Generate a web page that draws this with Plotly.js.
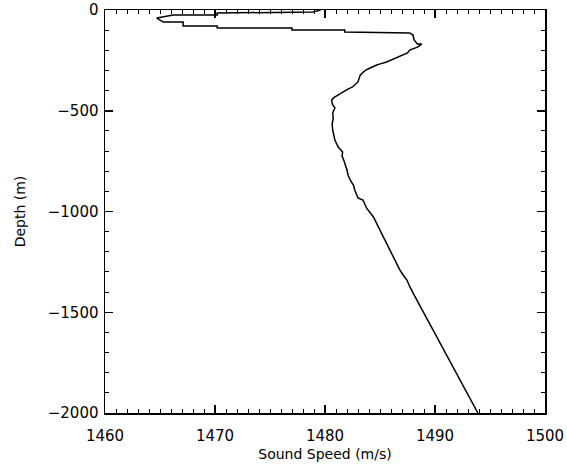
<!DOCTYPE html>
<html>
<head>
<meta charset="utf-8">
<script src="https://cdn.plot.ly/plotly-3.0.1.min.js"></script>
<style>html,body{margin:0;padding:0;background:#fff}#chart{width:567px;height:467px}</style>
</head>
<body>
<div id="chart"></div>
<script>
// Sound speed profile (m/s) vs depth (m)
const soundSpeed = [1479.6, 1478.9, 1470.2, 1470.2, 1466.2, 1464.7, 1465.3, 1467.1, 1467.1, 1470.2,
  1470.2, 1477.0, 1477.0, 1481.8, 1481.8, 1487.7, 1488.0, 1488.1, 1488.4, 1488.8,
  1488.4, 1487.7, 1487.5, 1487.0, 1486.5, 1486.0, 1485.6, 1485.1, 1484.7, 1484.1,
  1483.7, 1483.5, 1483.2, 1483.0, 1482.8, 1482.5, 1482.0, 1481.6, 1481.1, 1480.8,
  1480.6, 1480.7, 1480.9, 1480.7, 1480.75, 1480.65, 1480.7, 1480.8, 1480.9, 1481.2,
  1481.6, 1481.55, 1481.7, 1482.0, 1482.1, 1482.3, 1482.6, 1482.7, 1483.0, 1483.45,
  1483.8, 1484.4, 1484.7, 1485.0, 1485.3, 1485.6, 1485.9, 1486.2, 1486.5, 1486.8,
  1487.1, 1487.45, 1487.7, 1488.0, 1493.9];
const depth = [0, -10, -15, -25, -25, -40, -60, -60, -79, -79,
  -89, -89, -99, -99, -109, -114, -124, -149, -169, -169,
  -184, -199, -213, -225, -238, -248, -258, -266, -273, -288,
  -298, -308, -323, -357, -368, -382, -395, -407, -422, -435,
  -447, -471, -486, -511, -536, -566, -596, -620, -645, -680,
  -705, -725, -744, -794, -820, -844, -870, -893, -933, -943,
  -985, -1027, -1060, -1092, -1130, -1166, -1195, -1226, -1258, -1290,
  -1315, -1340, -1372, -1404, -2000];
const xTicks = [1460, 1470, 1480, 1490, 1500];
const yTicks = [0, -500, -1000, -1500, -2000];
const xTitle = 'Sound Speed (m/s)';
const yTitle = 'Depth (m)';

const font = {family: 'DejaVu Sans, Liberation Sans, sans-serif', size: 15, color: '#000000'};
const titleFont = {family: 'DejaVu Sans, Liberation Sans, sans-serif', size: 14, color: '#000000'};
const axisCommon = {
  showgrid: false, zeroline: false, showline: true, linecolor: '#000', linewidth: 1.5,
  mirror: 'allticks', ticks: 'inside', ticklen: 8, tickwidth: 1.5, tickcolor: '#000',
  tickfont: font, automargin: false
};
Plotly.newPlot('chart', [{
  x: soundSpeed, y: depth, type: 'scatter', mode: 'lines',
  line: {color: '#000', width: 1.5}, hoverinfo: 'skip'
}], {
  width: 567, height: 467,
  margin: {l: 105, r: 22, t: 10, b: 54},
  paper_bgcolor: '#fff', plot_bgcolor: '#fff',
  showlegend: false,
  font: font,
  xaxis: Object.assign({}, axisCommon, {
    range: [1460, 1500], tickvals: xTicks, ticktext: xTicks.map(String),
    ticklabelstandoff: 8,
    minor: {dtick: 1, ticklen: 4, tickwidth: 1, tickcolor: '#000', ticks: 'inside'},
    title: {text: xTitle, font: titleFont, standoff: 5}
  }),
  yaxis: Object.assign({}, axisCommon, {
    range: [-2000, 0], tickvals: yTicks, ticktext: yTicks.map(v => v < 0 ? '\u2212' + Math.abs(v) : String(v)),
    ticklabelstandoff: 2,
    minor: {dtick: 100, ticklen: 4, tickwidth: 1, tickcolor: '#000', ticks: 'inside'},
    title: {text: yTitle, font: titleFont, standoff: 19}
  })
}, {staticPlot: true});
</script>
</body>
</html>
